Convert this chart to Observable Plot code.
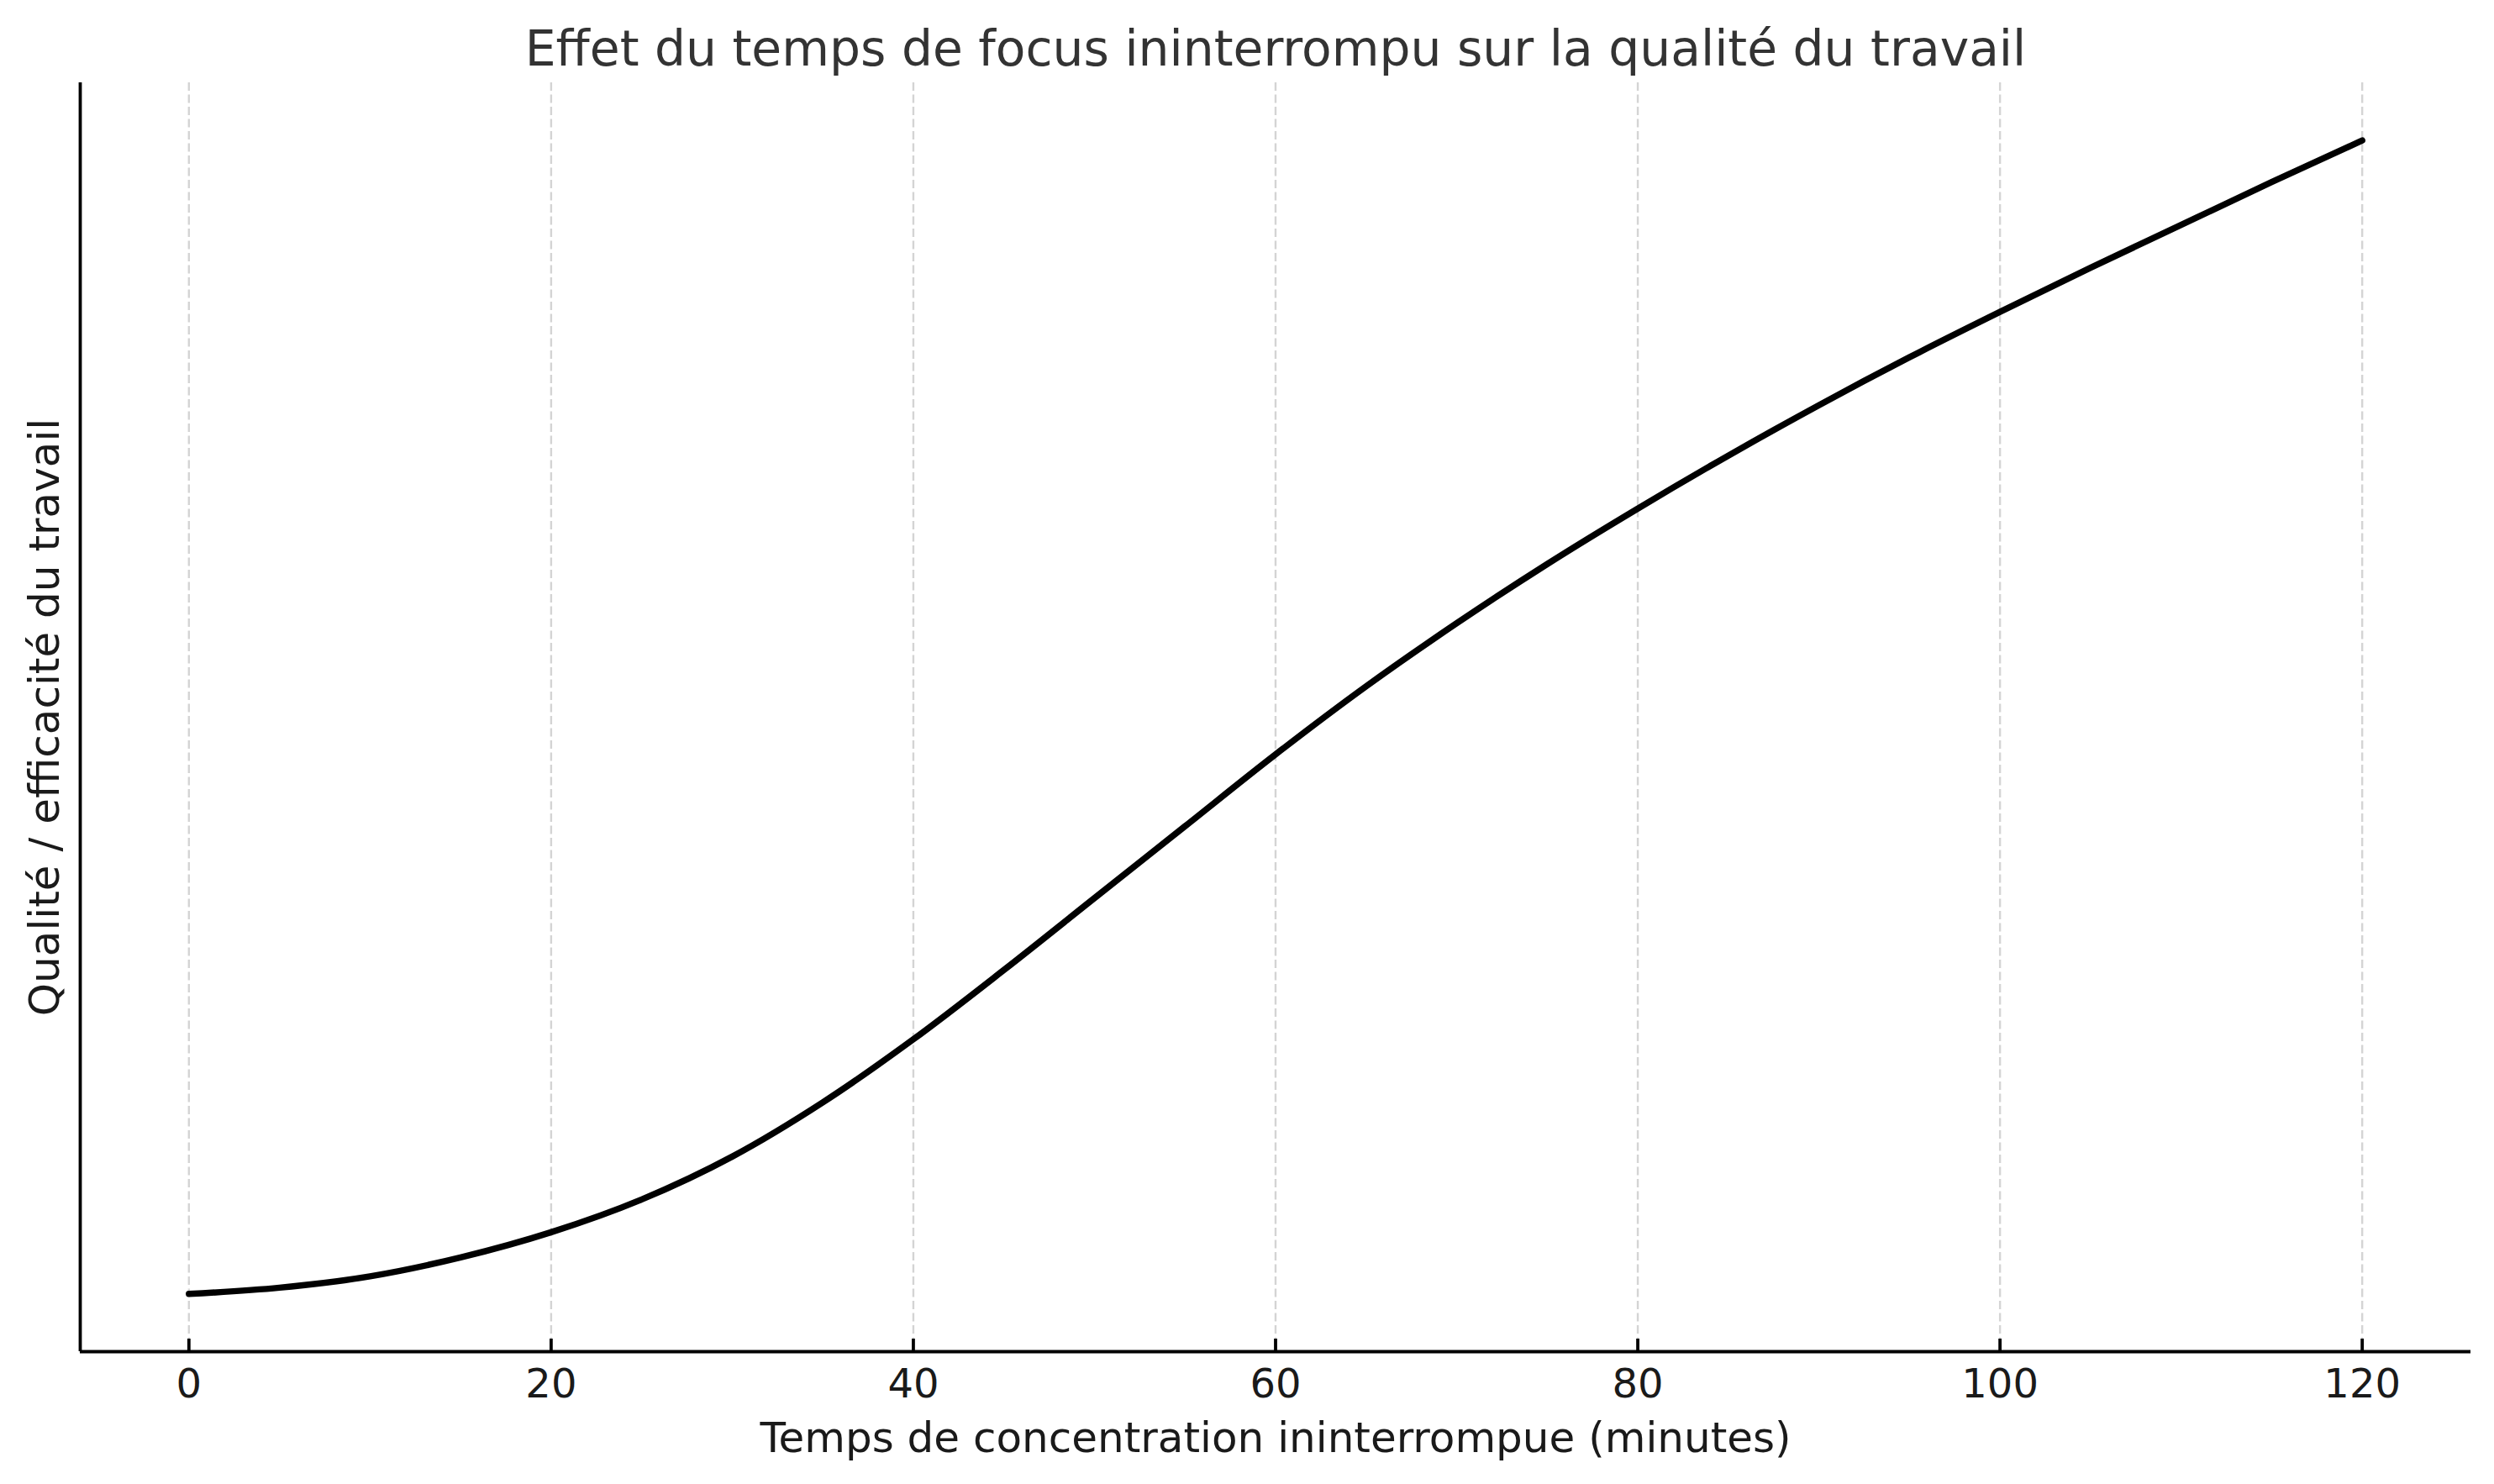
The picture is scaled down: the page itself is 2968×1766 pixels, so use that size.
<!DOCTYPE html>
<html>
<head>
<meta charset="utf-8">
<script src="https://cdn.jsdelivr.net/npm/d3@7"></script>
<script src="https://cdn.jsdelivr.net/npm/@observablehq/plot@0.6"></script>
<style>
  html, body { margin: 0; padding: 0; background: #ffffff; }
  svg { display: block; }
</style>
</head>
<body>
<div id="chart"></div>
<script>
// ---- data (arbitrary quality units) ----
const minutes = [0, 5, 10, 15, 20, 25, 30, 35, 40, 45, 50, 55, 60, 65, 70, 75, 80, 85, 90, 95, 100, 105, 110, 115, 120];
const qualite = [4.5, 5.0, 5.9, 7.4, 9.4, 12.0, 15.4, 19.7, 24.7, 30.2, 35.9, 41.6, 47.3, 52.7, 57.7, 62.4, 66.8, 71.0, 75.0, 78.8, 82.4, 85.9, 89.3, 92.7, 96.0];
const xTicks = [0, 20, 40, 60, 80, 100, 120];
const titre = "Effet du temps de focus ininterrompu sur la qualité du travail";
const labelX = "Temps de concentration ininterrompue (minutes)";
const labelY = "Qualité / efficacité du travail";

// ---- build table and domains (matplotlib-like 5% margins) ----
const table = minutes.map((m, i) => ({ m, q: qualite[i] }));
const xe = d3.extent(minutes), xp = (xe[1] - xe[0]) * 0.05;
const ye = d3.extent(qualite), yp = (ye[1] - ye[0]) * 0.05;
const xDomain = [xe[0] - xp, xe[1] + xp];
const yDomain = [ye[0] - yp, ye[1] + yp];

const W = 2968, H = 1766;
const mL = 95, mR = 28, mT = 98, mB = 158;
const frameH = H - mT - mB;

const chart = Plot.plot({
  width: W,
  height: H,
  marginLeft: mL, marginRight: mR, marginTop: mT, marginBottom: mB,
  style: { fontFamily: "DejaVu Sans", background: "#ffffff", color: "#1a1a1a" },
  x: { domain: xDomain, axis: null },
  y: { domain: yDomain, axis: null },
  marks: [
    Plot.gridX(xTicks, { stroke: "#d4d4d4", strokeOpacity: 1, strokeWidth: 2.4, strokeDasharray: "10,4.5" }),
    Plot.line(table, { x: "m", y: "q", stroke: "#000000", strokeWidth: 7.5, curve: "monotone-x" }),
    Plot.ruleX([xDomain[0]], { stroke: "#000000", strokeWidth: 3.8 }),
    Plot.ruleY([yDomain[0]], { stroke: "#000000", strokeWidth: 3.8 }),
    Plot.ruleX(xTicks, { stroke: "#000000", strokeWidth: 3.8, insetTop: frameH - 15 }),
    Plot.axisX(xTicks, { tickSize: 0, tickPadding: 20, fontSize: 48, fill: "#1a1a1a", label: null }),
    Plot.text([labelX], { frameAnchor: "bottom", dy: 119, fontSize: 50, fill: "#1a1a1a", textAnchor: "middle" }),
    Plot.text([labelY], { frameAnchor: "left", dx: -42, rotate: -90, fontSize: 50, fill: "#1a1a1a", textAnchor: "middle" }),
    Plot.text([titre], { frameAnchor: "top", dy: -62, fontSize: 58.3, fill: "#333333", textAnchor: "middle" })
  ]
});

document.getElementById("chart").appendChild(chart);
</script>
</body>
</html>
